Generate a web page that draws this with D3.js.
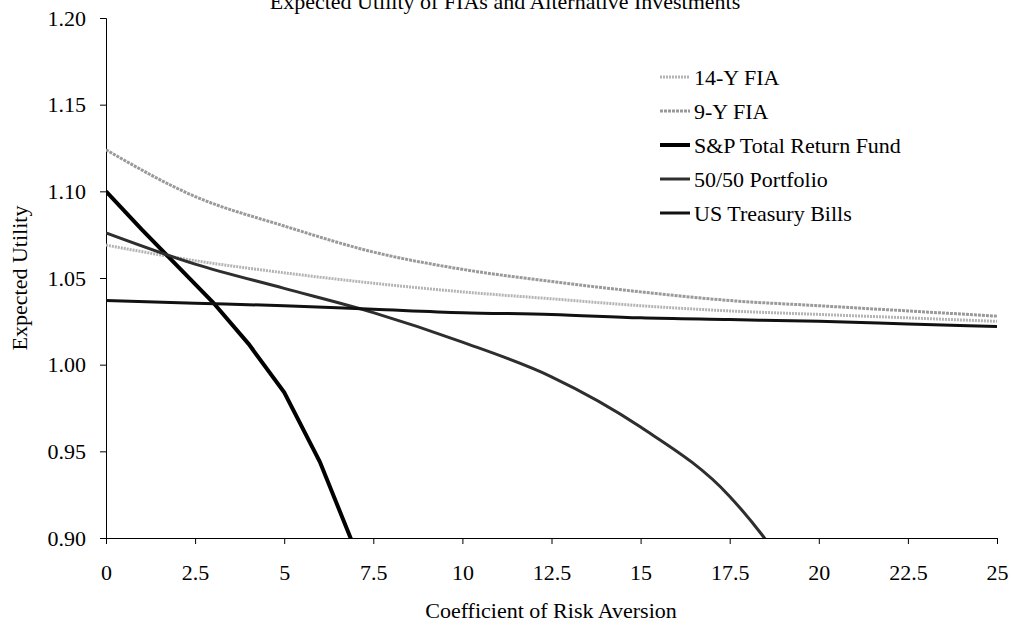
<!DOCTYPE html>
<html><head><meta charset="utf-8">
<script src="https://d3js.org/d3.v7.min.js"></script>
<style>body{margin:0;background:#fff;} text{font-family:"Liberation Serif","Times New Roman",serif;fill:#000;}</style>
</head><body>
<script>
// ---- data ----
const xGrid = [0, 2.5, 5, 7.5, 10, 12.5, 15, 17.5, 20, 22.5, 25];
const fia14 = [1.069, 1.060, 1.053, 1.047, 1.042, 1.038, 1.034, 1.031, 1.029, 1.027, 1.025];
const fia9  = [1.124, 1.097, 1.080, 1.065, 1.055, 1.048, 1.042, 1.037, 1.034, 1.031, 1.028];
const tbills = [1.037, 1.0355, 1.034, 1.032, 1.030, 1.029, 1.027, 1.026, 1.025, 1.0235, 1.022];
const spX = [0, 1, 2, 3, 4, 5, 6, 7];
const spY = [1.100, 1.078, 1.057, 1.036, 1.012, 0.984, 0.944, 0.893];
const p5050X = [0, 2.5, 5, 7.5, 10, 12.5, 15, 17.5, 18.4, 19];
const p5050Y = [1.076, 1.058, 1.044, 1.030, 1.013, 0.993, 0.964, 0.924, 0.902, 0.885];
const xTicks = [0, 2.5, 5, 7.5, 10, 12.5, 15, 17.5, 20, 22.5, 25];
const yTicks = [0.90, 0.95, 1.00, 1.05, 1.10, 1.15, 1.20];
const seriesNames = ["14-Y FIA", "9-Y FIA", "S&P Total Return Fund", "50/50 Portfolio", "US Treasury Bills"];
const title = "Expected Utility of FIAs and Alternative Investments";
const xTitle = "Coefficient of Risk Aversion";
const yTitle = "Expected Utility";

// ---- layout ----
const W = 1012, H = 626;
const L = 106, R = 997, T = 18, B = 538;
const svg = d3.select("body").append("svg").attr("width", W).attr("height", H);
const x = d3.scaleLinear().domain([0, 25]).range([L, R]);
const y = d3.scaleLinear().domain([0.90, 1.20]).range([B, T]);

svg.append("defs").append("clipPath").attr("id", "plot")
  .append("rect").attr("x", L).attr("y", T).attr("width", R - L).attr("height", B - T);

const styles = [
  {color: "#b4b4b4", width: 3, dash: "2,1"},
  {color: "#9a9a9a", width: 3, dash: "3,1"},
  {color: "#000000", width: 4, dash: null},
  {color: "#2e2e2e", width: 3, dash: null},
  {color: "#111111", width: 3, dash: null}
];
const series = [
  xGrid.map((d, i) => [d, fia14[i]]),
  xGrid.map((d, i) => [d, fia9[i]]),
  spX.map((d, i) => [d, spY[i]]),
  p5050X.map((d, i) => [d, p5050Y[i]]),
  xGrid.map((d, i) => [d, tbills[i]])
];

// axes
const xAxis = svg.append("g").attr("transform", `translate(0,${B})`)
  .call(d3.axisBottom(x).tickValues(xTicks).tickSize(6).tickPadding(20).tickFormat(d => String(d)));
const yAxis = svg.append("g").attr("transform", `translate(${L},0)`)
  .call(d3.axisLeft(y).tickValues(yTicks).tickSize(6).tickPadding(14).tickFormat(d3.format(".2f")));
[xAxis, yAxis].forEach(g => {
  g.selectAll("path,line").attr("stroke", "#000").attr("stroke-width", 1);
  g.selectAll("text").style("font-family", '"Liberation Serif",serif').style("font-size", "22px").attr("fill", "#000");
});

// lines
const line = d3.line().x(d => x(d[0])).y(d => y(d[1])).curve(d3.curveMonotoneX);
const lineLin = d3.line().x(d => x(d[0])).y(d => y(d[1]));
const g = svg.append("g").attr("clip-path", "url(#plot)");
series.forEach((s, i) => {
  g.append("path").datum(s)
    .attr("d", i === 2 ? lineLin : line)
    .attr("fill", "none").attr("stroke", styles[i].color)
    .attr("stroke-width", styles[i].width)
    .attr("stroke-dasharray", styles[i].dash);
});

// legend
const lg = svg.append("g");
seriesNames.forEach((n, i) => {
  const yy = 77 + i * 34;
  lg.append("line").attr("x1", 660).attr("x2", 690).attr("y1", yy).attr("y2", yy)
    .attr("stroke", styles[i].color).attr("stroke-width", styles[i].width)
    .attr("stroke-dasharray", styles[i].dash);
  lg.append("text").attr("x", 694).attr("y", yy).attr("dy", "0.35em")
    .style("font-size", "22px").text(n);
});

// titles
svg.append("text").attr("x", 505).attr("y", 9).attr("text-anchor", "middle")
  .style("font-size", "22px").text(title);
svg.append("text").attr("x", 551).attr("y", 618).attr("text-anchor", "middle")
  .style("font-size", "22px").text(xTitle);
svg.append("text").attr("transform", `translate(27,${(T + B) / 2}) rotate(-90)`)
  .attr("text-anchor", "middle").style("font-size", "22px").text(yTitle);
</script>
</body></html>
